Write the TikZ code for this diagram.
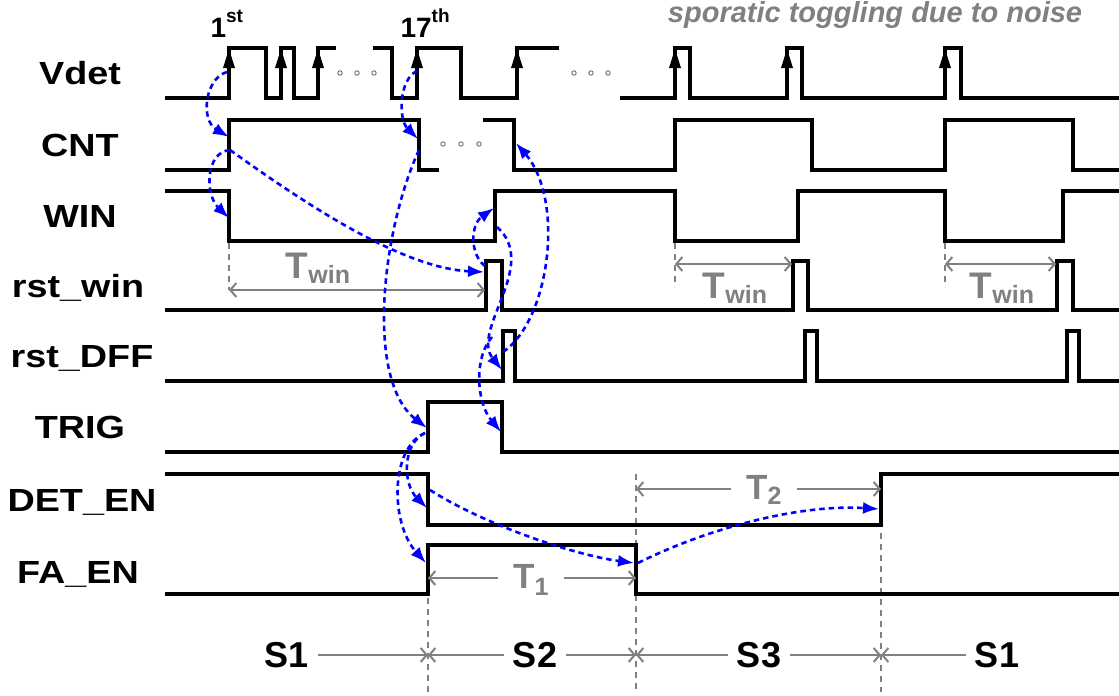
\documentclass[tikz,border=0pt]{standalone}
\usepackage{fontspec}
\setmainfont{Liberation Sans}
\usetikzlibrary{arrows.meta}
\definecolor{tgray}{RGB}{128,128,128}
\newcommand{\wlab}[1]{\scalebox{1.18}[1]{#1}}
\newcommand{\tsub}[2]{T\raisebox{-#2}{\fontsize{25}{25}\selectfont #1}}

\begin{document}
\begin{tikzpicture}[
  x=1pt,
  y=-1pt,
  >={Straight Barb[length=6pt,width=14pt]},
  sig/.style={draw=black,line width=3.2pt},
  cause/.style={draw=blue,line width=2.6pt,dash pattern=on 5.5pt off 4pt,-{Latex[length=16pt,width=12pt]}},
  dimline/.style={draw=tgray,line width=2pt},
  vguide/.style={draw=tgray,line width=2.6pt,dash pattern=on 6pt off 5pt},
  siglbl/.style={anchor=base,font=\bfseries\fontsize{32}{32}\selectfont},
  tlbl/.style={text=tgray,font=\bfseries\fontsize{37}{37}\selectfont,inner sep=0pt},
  slbl/.style={font=\bfseries\fontsize{36}{36}\selectfont,inner xsep=9pt},
  dots/.style={draw=black!60,line width=0.9pt}
]
  \useasboundingbox (0,0) rectangle (1119,696);

  \node[siglbl] (lvdet) at (80,84) {\wlab{Vdet}};
  \node[siglbl] (lcnt) at (80,156) {\wlab{CNT}};
  \node[siglbl] (lwin) at (80,227) {\wlab{WIN}};
  \node[siglbl] (lrstwin) at (78,297) {\wlab{rst\_win}};
  \node[siglbl] (lrstdff) at (82,367) {\wlab{rst\_DFF}};
  \node[siglbl] (ltrig) at (80,438) {\wlab{TRIG}};
  \node[siglbl] (ldeten) at (82,511) {\wlab{DET\_EN}};
  \node[siglbl] (lfaen) at (78,583) {\wlab{FA\_EN}};

  \node[anchor=base west,font=\bfseries\fontsize{28}{28}\selectfont] (first) at (207,37)
    {1\raisebox{14pt}{\fontsize{19}{19}\selectfont st}};
  \node[anchor=base west,font=\bfseries\fontsize{28}{28}\selectfont] (seventeenth) at (397,37)
    {17\raisebox{14pt}{\fontsize{19}{19}\selectfont th}};
  \node[anchor=base,text=tgray,font=\bfseries\itshape\fontsize{29}{29}\selectfont] (noise) at (875,23)
    {sporatic toggling due to noise};

  \draw[vguide] (229,243) -- (229,290);
  \draw[vguide] (675,243) -- (675,287);
  \draw[vguide] (945,243) -- (945,287);
  \draw[vguide] (428,598) -- (428,692);
  \draw[vguide] (636,474) -- (636,692);
  \draw[vguide] (881,533) -- (881,692);

  \draw[sig] (165,98) -| (229,48) -| (266,98) -| (281,48) -| (294,98) -| (318,48) -- (336,48);
  \draw[sig] (373,48) -| (392,98) -| (417,48) -| (461,98) -| (517,48) -- (559,48);
  \draw[sig] (620,98) -| (675,48) -| (690,98) -| (787,48) -| (802,98) -| (945,48) -| (961,98) -- (1119,98);
  \foreach \x in {229,281,318,417,517,675,787,945} {
    \fill (\x-6,68) -- (\x+6,68) -- (\x,49) -- cycle;
  }
  \foreach \x in {340,357,374,574,591,608} {
    \draw[dots] (\x,73) circle (2.2);
  }

  \draw[sig] (165,170) -| (229,120) -| (419,170) -- (439,170);
  \draw[sig] (483,120) -| (514,170) -| (675,120) -| (812,170) -| (945,120) -| (1073,170) -- (1119,170);
  \foreach \x in {443,461,479} {
    \draw[dots] (\x,144) circle (2.2);
  }
  \draw[sig] (165,191) -| (229,241) -| (495,191) -| (675,241) -| (798,191) -| (945,241) -| (1063,191) -- (1119,191);
  \draw[sig] (165,310) -| (486,261) -| (502,310) -| (793,261) -| (808,310) -| (1057,261) -| (1073,310) -- (1119,310);
  \draw[sig] (165,381) -| (503,331) -| (515,381) -| (805,331) -| (817,381) -| (1067,331) -| (1079,381) -- (1119,381);
  \draw[sig] (165,452) -| (428,402) -| (502,452) -- (1119,452);
  \draw[sig] (165,474) -| (428,525) -| (881,474) -- (1119,474);
  \draw[sig] (165,594) -| (428,545) -| (636,594) -- (1119,594);

  \coordinate (tw1a) at (229,290);
  \coordinate (tw1b) at (485,290);
  \coordinate (tw2a) at (675,264);
  \coordinate (tw2b) at (792,264);
  \coordinate (tw3a) at (945,264);
  \coordinate (tw3b) at (1056,264);
  \draw[dimline,<->] (tw1a) -- (tw1b);
  \draw[dimline,<->] (tw2a) -- (tw2b);
  \draw[dimline,<->] (tw3a) -- (tw3b);
  \node[tlbl] (twin1) at (318,268) {\tsub{win}{5pt}};
  \node[tlbl] (twin2) at (735,288) {\tsub{win}{5pt}};
  \node[tlbl] (twin3) at (1002,288) {\tsub{win}{5pt}};

  \coordinate (t1a) at (428,578);
  \coordinate (t1b) at (636,578);
  \coordinate (t2a) at (636,489);
  \coordinate (t2b) at (881,489);
  \node[tlbl,font=\bfseries\fontsize{35}{35}\selectfont,inner xsep=15pt] (tone) at (531,580) {\tsub{1}{7pt}};
  \node[tlbl,font=\bfseries\fontsize{35}{35}\selectfont,inner xsep=15pt] (ttwo) at (764,490) {\tsub{2}{5pt}};
  \draw[dimline,->] (tone.west |- t1a) -- (t1a);
  \draw[dimline,->] (tone.east |- t1b) -- (t1b);
  \draw[dimline,->] (ttwo.west |- t2a) -- (t2a);
  \draw[dimline,->] (ttwo.east |- t2b) -- (t2b);

  \coordinate (b1) at (428,655);
  \coordinate (b2) at (636,655);
  \coordinate (b3) at (881,655);
  \node[slbl] (sa) at (287,655) {S1};
  \node[slbl] (sb) at (535,655) {S2};
  \node[slbl] (sc) at (759,655) {S3};
  \node[slbl] (sd) at (997,655) {S1};
  \draw[dimline,->] (sa.east) -- (b1);
  \draw[dimline,->] (sb.west) -- (b1);
  \draw[dimline,->] (sb.east) -- (b2);
  \draw[dimline,->] (sc.west) -- (b2);
  \draw[dimline,->] (sc.east) -- (b3);
  \draw[dimline,->] (sd.west) -- (b3);

  \coordinate (v1) at (227,72);
  \coordinate (c1in) at (229,137);
  \coordinate (c1out) at (230,150);
  \coordinate (w1in) at (229,218);
  \coordinate (r1in) at (484,272);
  \coordinate (v17) at (417,71);
  \coordinate (c17in) at (418,139);
  \coordinate (c17out) at (419,150);
  \coordinate (g1in) at (427,428);
  \coordinate (r1out) at (485,266);
  \coordinate (w2in) at (494,208);
  \coordinate (w2out) at (497,227);
  \coordinate (d1in) at (502,370);
  \coordinate (d1out) at (503,352);
  \coordinate (c2in) at (516,143);
  \coordinate (fork) at (492,337);
  \coordinate (g2in) at (501,432);
  \coordinate (g1out) at (425,433);
  \coordinate (e1in) at (427,508);
  \coordinate (f1in) at (426,563);
  \coordinate (e1out) at (430,490);
  \coordinate (f2in) at (634,563);
  \coordinate (f2out) at (638,563);
  \coordinate (e2in) at (879,509);

  \draw[cause] (v1) .. controls (205,78) and (200,120) .. (c1in);
  \draw[cause] (c1out) .. controls (205,152) and (205,195) .. (w1in);
  \draw[cause] (c1out) .. controls (300,200) and (400,268) .. (r1in);
  \draw[cause] (v17) .. controls (399,79) and (398,119) .. (c17in);
  \draw[cause] (c17out) .. controls (382,230) and (365,380) .. (g1in);
  \draw[cause] (r1out) .. controls (470,255) and (470,225) .. (w2in);
  \draw[cause] (w2out) .. controls (540,265) and (470,330) .. (d1in);
  \draw[cause] (d1out) .. controls (550,320) and (565,200) .. (c2in);
  \draw[cause] (fork) .. controls (474,357) and (476,402) .. (g2in);
  \draw[cause] (g1out) .. controls (403,443) and (402,483) .. (e1in);
  \draw[cause] (g1out) .. controls (390,448) and (390,523) .. (f1in);
  \draw[cause] (e1out) .. controls (485,525) and (574,555) .. (f2in);
  \draw[cause] (f2out) .. controls (708,528) and (800,504) .. (e2in);
\end{tikzpicture}
\end{document}
